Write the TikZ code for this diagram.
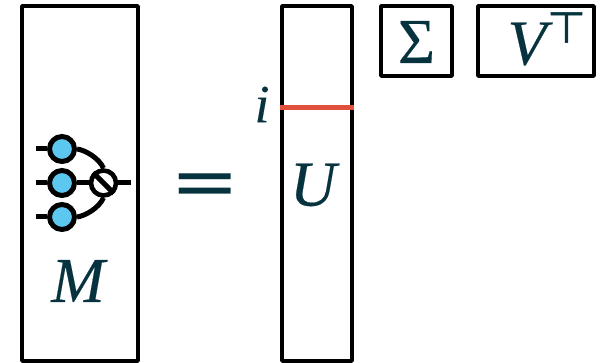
\documentclass[tikz,border=0pt]{standalone}
\usepackage{fontspec}
\setmainfont[FakeBold=0.25]{Liberation Serif}
\newfontfamily\symfont[FakeBold=1.6]{DejaVu Sans}
\newfontfamily\eqfont{DejaVu Sans}
\definecolor{inkteal}{HTML}{07333F}
\definecolor{qblue}{HTML}{5CC8F0}
\definecolor{rowred}{HTML}{E0503A}
\tikzset{
  matbox/.style={draw=black,line width=3.8pt,line join=round,inner sep=0pt},
  wire/.style={draw=black,line width=5pt},
  qubit/.style={circle,draw=black,line width=5pt,fill=qblue,minimum size=25pt,inner sep=0pt},
  gate/.style={circle,draw=black,line width=4.6pt,fill=white,minimum size=25pt,inner sep=0pt},
  lab/.style={text=inkteal,inner sep=0pt,font=\fontsize{64}{64}\selectfont\itshape},
}
\begin{document}
\begin{tikzpicture}[x=1pt,y=-1pt]
\useasboundingbox (0,0) rectangle (610,363);
\node[matbox,minimum width=116pt,minimum height=355pt] (M) at (80,183.5) {};
\node[matbox,minimum width=70pt,minimum height=355pt] (U) at (317,183.5) {};
\node[matbox,minimum width=71pt,minimum height=70pt] (S) at (416.5,41) {};
\node[matbox,minimum width=116pt,minimum height=70pt] (V) at (536,41) {};
\coordinate (l1) at (36,149); \coordinate (l2) at (36,183); \coordinate (l3) at (36,217);
\coordinate (ro) at (131,183);
\node[qubit] (q1) at (62,149) {};
\node[qubit] (q2) at (62,183) {};
\node[qubit] (q3) at (62,217) {};
\node[gate] (g) at (103.5,183) {};
\draw[wire] (l1) -- (q1.west);
\draw[wire] (l2) -- (q2.west);
\draw[wire] (l3) -- (q3.west);
\draw[wire] (q2.east) -- (g.west);
\draw[wire] (g.east) -- (ro);
\draw[wire] (q1.east) .. controls (85,150) and (99,158) .. (g.north);
\draw[wire] (q3.east) .. controls (85,216) and (99,208) .. (g.south);
\draw[wire] (g.north west) -- (g.south east);
\node[lab] (Mt) at (78,281) {M};
\node[lab] (Ut) at (313,185) {U};
\node[lab,font=\fontsize{54}{54}\selectfont\itshape] (it) at (262,104.5) {i};
\node[lab,font=\fontsize{64}{64}\selectfont\upshape] (St) at (416.5,42) {Σ};
\node[lab] (Vt) at (527,44) {V};
\node[text=inkteal,inner sep=0pt,xscale=1.1,yscale=1.08,font=\symfont\fontsize{40}{40}\selectfont] (Tt) at (566.5,27.5) {⊤};
\node[text=inkteal,inner sep=0pt,xscale=1.15,font=\eqfont\fontsize{72}{72}\selectfont] (eq) at (205,190) {=};
\coordinate (ra) at (U.west|-0,107.5); \coordinate (rb) at (U.east|-0,107.5);
\draw[draw=rowred,line width=5pt] (ra) -- (rb);
\end{tikzpicture}
\end{document}
